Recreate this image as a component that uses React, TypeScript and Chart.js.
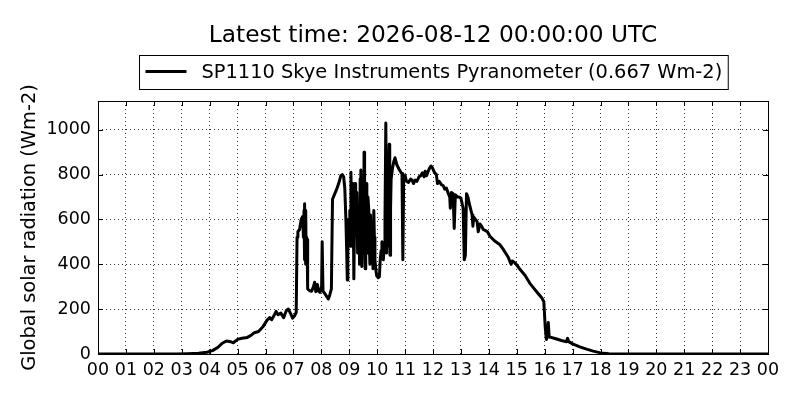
import React, { useEffect, useRef } from 'react';
import { Chart, registerables, ChartConfiguration, Plugin } from 'chart.js';
Chart.register(...registerables);

const titleText = 'Latest time: 2026-08-12 00:00:00 UTC';
const seriesLabel = 'SP1110 Skye Instruments Pyranometer (0.667 Wm-2)';
const yAxisTitle = 'Global solar radiation (Wm-2)';

// hour of day (UTC)
const hours = [
  0.0, 1.0, 2.0, 2.8, 3.2, 3.6, 3.9, 4.1, 4.3, 4.45,
  4.6, 4.75, 4.85, 5.0, 5.15, 5.35, 5.5, 5.6, 5.75, 5.9,
  6.05, 6.15, 6.22, 6.32, 6.38, 6.45, 6.55, 6.65, 6.75, 6.82,
  6.9, 6.97, 7.05, 7.1, 7.13, 7.16, 7.22, 7.28, 7.33, 7.36,
  7.38, 7.39, 7.40, 7.41, 7.42, 7.43, 7.44, 7.45, 7.46, 7.47,
  7.48, 7.49, 7.5, 7.52, 7.58, 7.65, 7.72, 7.76, 7.8, 7.86,
  7.9, 7.95, 8.01, 8.03, 8.06, 8.12, 8.2, 8.25, 8.3, 8.36,
  8.4, 8.45, 8.55, 8.62, 8.7, 8.75, 8.8, 8.84, 8.88, 8.91,
  8.93, 8.95, 8.97, 9.0, 9.02, 9.04, 9.06, 9.08, 9.1, 9.12,
  9.14, 9.16, 9.17, 9.19, 9.21, 9.23, 9.25, 9.27, 9.3, 9.32,
  9.35, 9.37, 9.39, 9.41, 9.42, 9.44, 9.45, 9.47, 9.5, 9.52,
  9.53, 9.55, 9.57, 9.59, 9.61, 9.63, 9.65, 9.67, 9.7, 9.72,
  9.74, 9.76, 9.78, 9.8, 9.83, 9.85, 9.88, 9.9, 9.92, 9.95,
  9.98, 10.04, 10.08, 10.11, 10.14, 10.17, 10.2, 10.22, 10.25, 10.28,
  10.31, 10.33, 10.34, 10.36, 10.38, 10.41, 10.43, 10.45, 10.46, 10.48,
  10.5, 10.55, 10.6, 10.64, 10.7, 10.78, 10.85, 10.89, 10.92, 10.95,
  11.0, 11.05, 11.12, 11.2, 11.25, 11.3, 11.36, 11.42, 11.5, 11.56,
  11.62, 11.68, 11.72, 11.77, 11.82, 11.88, 11.93, 11.98, 12.05, 12.12,
  12.16, 12.22, 12.3, 12.37, 12.42, 12.48, 12.55, 12.6, 12.62, 12.66,
  12.72, 12.76, 12.8, 12.87, 12.93, 13.0, 13.08, 13.12, 13.16, 13.2,
  13.25, 13.32, 13.4, 13.43, 13.46, 13.52, 13.58, 13.62, 13.68, 13.74,
  13.8, 13.88, 13.95, 14.04, 14.2, 14.4, 14.5, 14.6, 14.7, 14.76,
  14.8, 14.84, 14.95, 15.1, 15.3, 15.47, 15.6, 15.75, 15.9, 15.97,
  16.02, 16.06, 16.1, 16.13, 16.16, 16.2, 16.4, 16.6, 16.78, 16.82,
  16.86, 17.0, 17.26, 17.5, 17.74, 18.0, 18.3, 18.6, 20, 22,
  24,
];

// global solar radiation, Wm-2
const radiation = [
  0, 0, 0, 0, 1, 3, 8, 15, 30, 48,
  58, 55, 50, 65, 70, 74, 85, 95, 100, 120,
  150, 162, 153, 175, 190, 175, 183, 162, 195, 200,
  180, 160, 172, 185, 520, 545, 555, 600, 613, 520,
  640, 660, 420, 670, 480, 400, 600, 640, 400, 520,
  420, 510, 400, 290, 282, 280, 300, 320, 278, 310,
  280, 275, 300, 500, 280, 270, 255, 245, 262, 290,
  690, 705, 735, 760, 795, 800, 790, 740, 600, 450,
  330, 480, 600, 560, 640, 480, 810, 650, 550, 760,
  700, 500, 335, 600, 760, 560, 620, 720, 450, 580,
  650, 400, 780, 600, 820, 550, 390, 620, 700, 450,
  900, 600, 380, 550, 760, 620, 450, 700, 640, 480,
  400, 620, 560, 420, 500, 380, 640, 520, 420, 380,
  350, 340, 345, 420, 460, 500, 480, 420, 470, 600,
  1030, 600, 450, 700, 480, 800, 935, 600, 440, 650,
  780, 830, 860, 875, 845, 825, 810, 805, 420, 790,
  795, 770, 765, 780, 775, 760, 775, 770, 790, 795,
  808, 790, 815, 795, 812, 830, 838, 830, 810, 800,
  760, 770, 755, 750, 735, 740, 715, 700, 650, 720,
  715, 560, 710, 700, 700, 695, 650, 420, 440, 715,
  700, 660, 620, 570, 610, 600, 590, 545, 580, 570,
  555, 550, 545, 525, 505, 487, 470, 450, 430, 410,
  400, 415, 405, 380, 350, 315, 295, 272, 250, 233,
  120, 65, 100, 140, 75, 75, 68, 60, 55, 70,
  55, 45, 32, 22, 13, 5, 1, 0, 0, 0,
  0,
];

const xTicks = [0, 1, 2, 3, 4, 5, 6, 7, 8, 9, 10, 11, 12, 13, 14, 15, 16, 17, 18, 19, 20, 21, 22, 23, 24];
const xTickLabels = ['00', '01', '02', '03', '04', '05', '06', '07', '08', '09', '10', '11',
  '12', '13', '14', '15', '16', '17', '18', '19', '20', '21', '22', '23', '00'];
const yTicks = [0, 200, 400, 600, 800, 1000];
const yMax = 1128;

const FONT = "'DejaVu Sans', sans-serif";

// matplotlib-ish decorations: frame, inward ticks, title and framed legend
const mplFrame: Plugin = {
  id: 'mplFrame',
  afterDraw(chart) {
    const { ctx, chartArea: a } = chart;
    const xs = chart.scales.x;
    const ys = chart.scales.y;
    ctx.save();
    ctx.strokeStyle = '#000';
    ctx.lineWidth = 1;
    const tl = 5;
    ctx.beginPath();
    xTicks.forEach(v => {
      const px = Math.round(xs.getPixelForValue(v)) + 0.5;
      ctx.moveTo(px, a.bottom); ctx.lineTo(px, a.bottom - tl);
      ctx.moveTo(px, a.top); ctx.lineTo(px, a.top + tl);
    });
    yTicks.forEach(v => {
      const py = Math.round(ys.getPixelForValue(v)) + 0.5;
      ctx.moveTo(a.left, py); ctx.lineTo(a.left + tl, py);
      ctx.moveTo(a.right, py); ctx.lineTo(a.right - tl, py);
    });
    ctx.stroke();
    ctx.strokeRect(Math.round(a.left) + 0.5, Math.round(a.top) + 0.5,
      Math.round(a.right - a.left), Math.round(a.bottom - a.top));

    const cx = (a.left + a.right) / 2;
    ctx.fillStyle = '#000';
    ctx.textAlign = 'center';
    ctx.textBaseline = 'alphabetic';
    ctx.font = `23.3px ${FONT}`;
    ctx.fillText(titleText, cx, 42.3);

    // legend
    ctx.font = `19.4px ${FONT}`;
    const label = (chart.data.datasets[0].label as string) || '';
    const tw = ctx.measureText(label).width;
    const total = 6 + 41 + 15 + tw + 6;
    const bx = Math.round(cx - total / 2) + 0.5;
    ctx.fillStyle = '#fff';
    ctx.fillRect(bx, 55.5, total, 34);
    ctx.strokeRect(bx, 55.5, total, 34);
    ctx.lineWidth = 3;
    ctx.beginPath();
    ctx.moveTo(bx + 6, 71.5);
    ctx.lineTo(bx + 47, 71.5);
    ctx.stroke();
    ctx.fillStyle = '#000';
    ctx.textAlign = 'left';
    ctx.fillText(label, bx + 62, 78.3);
    ctx.restore();
  },
};

const PyranometerChart: React.FC = () => {
  const chartRef = useRef<HTMLCanvasElement>(null);
  const chartInstanceRef = useRef<Chart | null>(null);

  useEffect(() => {
    if (!chartRef.current) return;
    const ctx = chartRef.current.getContext('2d');
    if (!ctx) return;

    const gridDots = {
      color: 'rgba(0, 0, 0, 0.8)',
      lineWidth: 1,
      drawTicks: false,
    };

    const config: ChartConfiguration<'line'> = {
      type: 'line',
      data: {
        datasets: [{
          label: seriesLabel,
          data: hours.map((h, i) => ({ x: h, y: radiation[i] })),
          borderColor: '#000',
          backgroundColor: '#000',
          borderWidth: 3,
          borderJoinStyle: 'round',
          pointRadius: 0,
          tension: 0,
          clip: 1,
        }],
      },
      options: {
        animation: false,
        responsive: true,
        maintainAspectRatio: false,
        parsing: false,
        layout: { padding: { top: 101, right: 32, left: 0, bottom: 0 } },
        scales: {
          x: {
            type: 'linear',
            min: 0,
            max: 24,
            afterBuildTicks: (s) => { s.ticks = xTicks.map(v => ({ value: v })); },
            afterFit: (s) => { s.height = 46; },
            grid: gridDots,
            border: { display: false, dash: [1, 3] },
            ticks: {
              color: '#000',
              padding: 6,
              maxRotation: 0,
              autoSkip: false,
              font: { family: FONT, size: 17.5 },
              callback: (_v, i) => xTickLabels[i],
            },
          },
          y: {
            type: 'linear',
            min: 0,
            max: yMax,
            afterBuildTicks: (s) => { s.ticks = yTicks.map(v => ({ value: v })); },
            afterFit: (s) => { s.width = 98; },
            grid: gridDots,
            border: { display: false, dash: [1, 3] },
            ticks: {
              color: '#000',
              padding: 7,
              font: { family: FONT, size: 17.5 },
              callback: (v) => String(v),
            },
            title: {
              display: true,
              text: yAxisTitle,
              color: '#000',
              padding: { top: 18, bottom: 0 },
              font: { family: FONT, size: 19.4 },
            },
          },
        },
        plugins: {
          legend: { display: false },
          title: { display: false },
          tooltip: { enabled: false },
        },
      },
      plugins: [mplFrame],
    };

    chartInstanceRef.current = new Chart(ctx, config);
    return () => {
      if (chartInstanceRef.current) {
        chartInstanceRef.current.destroy();
        chartInstanceRef.current = null;
      }
    };
  }, []);

  return (
    <div style={{ position: 'absolute', left: 0, top: 0, width: 800, height: 400, background: '#fff' }}>
      <canvas ref={chartRef}></canvas>
    </div>
  );
};

export default function App() {
  return <PyranometerChart />;
}
